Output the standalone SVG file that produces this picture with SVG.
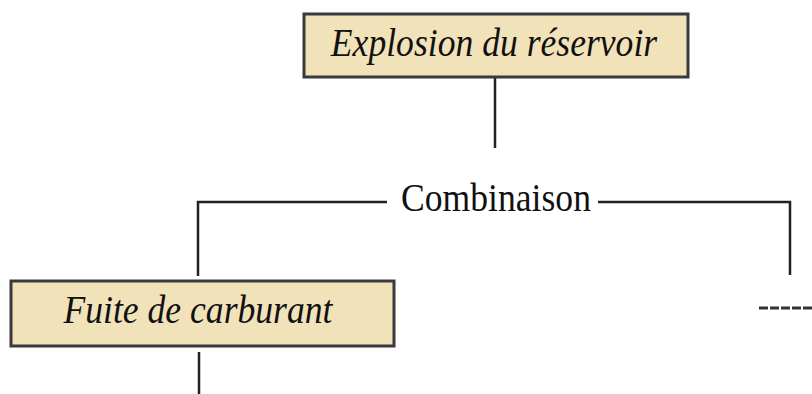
<svg xmlns="http://www.w3.org/2000/svg" width="812" height="394" viewBox="0 0 812 394">
  <style>
    .box { fill: #f2e2ba; stroke: #3a3a3a; stroke-width: 3; }
    .node-label { font-family: 'Liberation Serif', 'Times New Roman', Times, serif; font-style: italic; font-size: 35.6px; fill: #111; }
    .gate-label { font-family: 'Liberation Serif', 'Times New Roman', Times, serif; font-size: 35.6px; fill: #111; }
    .wire { fill: none; stroke: #222; stroke-width: 2.5; }
    .dashed { fill: none; stroke: #333; stroke-width: 3; stroke-dasharray: 9 2; }
  </style>
  <rect width="812" height="394" fill="#ffffff"/>

  <g id="connectors">
    <line class="wire" x1="495" y1="77" x2="495" y2="148"/>
    <polyline class="wire" points="387,202 198,202 198,276"/>
    <polyline class="wire" points="598,202 790,202 790,275"/>
    <line class="wire" x1="199" y1="352" x2="199" y2="394"/>
    <line class="dashed" x1="759" y1="308" x2="812" y2="308"/>
  </g>

  <g id="explosion-reservoir">
    <rect class="box" x="304" y="14" width="384" height="63"/>
    <text class="node-label" text-anchor="middle" transform="translate(494 56) scale(1 1.15)">Explosion du réservoir</text>
  </g>

  <g id="combinaison">
    <text class="gate-label" text-anchor="middle" transform="translate(496 211) scale(1 1.15)">Combinaison</text>
  </g>

  <g id="fuite-carburant">
    <rect class="box" x="11" y="281" width="383" height="65"/>
    <text class="node-label" text-anchor="middle" transform="translate(198 323) scale(1 1.15)">Fuite de carburant</text>
  </g>
</svg>
